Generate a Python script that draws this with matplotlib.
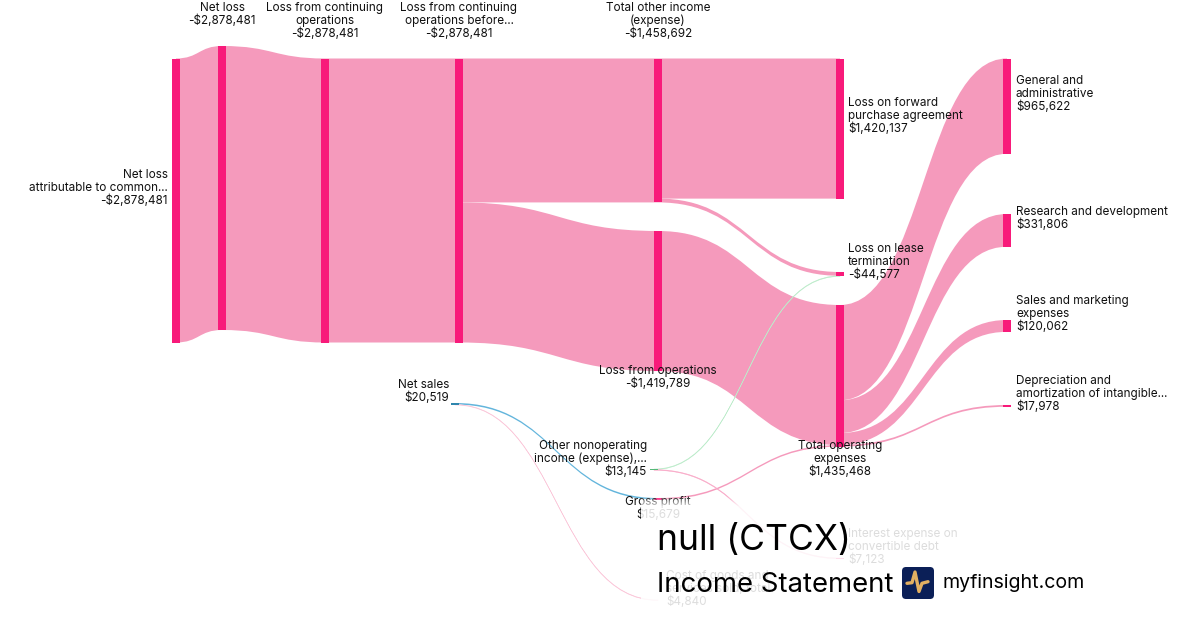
import numpy as np
import matplotlib
matplotlib.use("Agg")
import matplotlib.pyplot as plt
from matplotlib.patches import FancyBboxPatch, Rectangle
from matplotlib.path import Path
from matplotlib.patches import PathPatch

plt.rcParams['font.family'] = ['Inter', 'DejaVu Sans']

# node name, value
node_names = ["attrib", "netloss", "cont", "before", "other", "ops", "forward",
              "lease", "opex", "ga", "rd", "sm", "dep", "sales", "nonop",
              "gross", "interest", "cogs"]
node_values = [2878481, 2878481, 2878481, 2878481, 1458692, 1419789, 1420137,
               44577, 1435468, 965622, 331806, 120062, 17978, 20519, 13145,
               15679, 7123, 4840]

# links, in stacking and drawing order
link_src = ["attrib", "netloss", "cont", "before", "before", "other", "other",
            "ops", "gross", "opex", "opex", "opex", "opex", "sales",
            "sales", "nonop", "nonop"]
link_dst = ["netloss", "cont", "before", "other", "ops", "forward", "lease",
            "opex", "opex", "ga", "rd", "sm", "dep", "gross",
            "cogs", "lease", "interest"]
link_val = [2878481, 2878481, 2878481, 1458692, 1419789, 1420137, 38555,
            1419789, 15679, 965622, 331806, 120062, 17978, 15679,
            4840, 6022, 7123]
link_col = ["#f59abc"] * 13 + ["#63b5dc", "#fbc8da", "#bdeccb", "#f9aac8"]

# layout of the nodes in pixels: left edge and top edge
node_x = dict(attrib=172, netloss=218, cont=321, before=455, other=654, ops=654,
              forward=836, lease=836, opex=836, ga=1003, rd=1003, sm=1003, dep=1003,
              sales=451, nonop=650, gross=654, interest=836, cogs=654)
node_y = dict(attrib=58.5, netloss=46, cont=58.5, before=58.5, other=58.5, ops=231,
              forward=58.5, lease=272, opex=305, ga=58.5, rd=214, sm=320, dep=405,
              sales=403, nonop=469, gross=498, interest=558, cogs=600)
node_col = dict(sales="#2f86ad", nonop="#55b878")
node_w = 8
k = 284 / 2878481

labels = [
    ("Net loss\nattributable to common...\n-$2,878,481", 168, 174, "right"),
    ("Net loss\n-$2,878,481", 222, 7, "center"),
    ("Loss from continuing\noperations\n-$2,878,481", 325, 7, "center"),
    ("Loss from continuing\noperations before...\n-$2,878,481", 459, 7, "center"),
    ("Total other income\n(expense)\n-$1,458,692", 658, 7, "center"),
    ("Loss on forward\npurchase agreement\n$1,420,137", 848, 102, "left"),
    ("Loss on lease\ntermination\n-$44,577", 848, 248, "left"),
    ("Loss from operations\n-$1,419,789", 658, 370, "center"),
    ("Total operating\nexpenses\n$1,435,468", 840, 445.5, "center"),
    ("General and\nadministrative\n$965,622", 1016, 80, "left"),
    ("Research and development\n$331,806", 1016, 211, "left"),
    ("Sales and marketing\nexpenses\n$120,062", 1016, 300, "left"),
    ("Depreciation and\namortization of intangible...\n$17,978", 1016, 380, "left"),
    ("Net sales\n$20,519", 449, 384, "right"),
    ("Other nonoperating\nincome (expense),...\n$13,145", 647, 445, "right"),
    ("Gross profit\n$15,679", 658, 501, "center"),
    ("Interest expense on\nconvertible debt\n$7,123", 848, 533, "left"),
    ("Cost of goods and\nservices sold, total\n$4,840", 666, 575, "left"),
]

fig = plt.figure(figsize=(12, 6.3), dpi=100)
ax = fig.add_axes([0, 0, 1, 1])
ax.set_xlim(0, 1200)
ax.set_ylim(630, 0)
ax.axis("off")

values = dict(zip(node_names, node_values))
out_used = {n: 0.0 for n in node_names}
in_used = {n: 0.0 for n in node_names}

for s, d, v, c in zip(link_src, link_dst, link_val, link_col):
    h = v * k
    x0 = node_x[s] + node_w / 2
    x1 = node_x[d] + node_w / 2
    y0 = node_y[s] + out_used[s]
    y1 = node_y[d] + in_used[d]
    out_used[s] += h
    in_used[d] += h
    xm = (x0 + x1) / 2
    verts = [(x0, y0), (xm, y0), (xm, y1), (x1, y1),
             (x1, y1 + h), (xm, y1 + h), (xm, y0 + h), (x0, y0 + h), (x0, y0)]
    codes = [Path.MOVETO, Path.CURVE4, Path.CURVE4, Path.CURVE4,
             Path.LINETO, Path.CURVE4, Path.CURVE4, Path.CURVE4, Path.CLOSEPOLY]
    # very thin links vanish without a hairline edge
    lw = 0.35 if h < 1 else 0
    ax.add_patch(PathPatch(Path(verts, codes), fc=c, ec=c, lw=lw, zorder=1))

for n in node_names:
    ax.add_patch(Rectangle((node_x[n], node_y[n]), node_w, values[n] * k,
                           fc=node_col.get(n, "#f81a7a"), ec="none", zorder=2))

for txt, x, y, ha in labels:
    for i, line in enumerate(txt.split("\n")):
        ax.text(x, y + 0.7 + i * 13, line, ha=ha, va="center", fontsize=8.45,
                color="#111111", zorder=3)

# white fade under the title block
fade = np.ones((134, 1, 4))
fade[:, 0, 3] = np.clip(np.linspace(0, 11.5, 134), 0, 0.86)
ax.imshow(fade, extent=(641, 1200, 630, 496), aspect="auto", zorder=4,
          interpolation="bilinear")
ax.set_xlim(0, 1200)
ax.set_ylim(630, 0)

ax.text(657, 540.5, "null (CTCX)", fontsize=25.5, color="#000000", va="center", zorder=5)
ax.text(657, 584.5, "Income Statement", fontsize=19.85, color="#000000", va="center", zorder=5)
ax.text(942, 583.5, "myfinsight.com", fontsize=14.1, color="#000000", va="center", zorder=5)

ax.add_patch(FancyBboxPatch((905, 570), 26, 26, boxstyle="round,pad=3,rounding_size=4",
                            fc="#0b1f57", ec="none", zorder=5))
ax.plot([907, 912, 915, 919, 922, 928], [583.3, 582.7, 572, 591.5, 583.3, 581.7],
        color="#e3b062", lw=2.4, solid_capstyle="round", solid_joinstyle="round", zorder=6)

fig.savefig("out.png", dpi=100)
